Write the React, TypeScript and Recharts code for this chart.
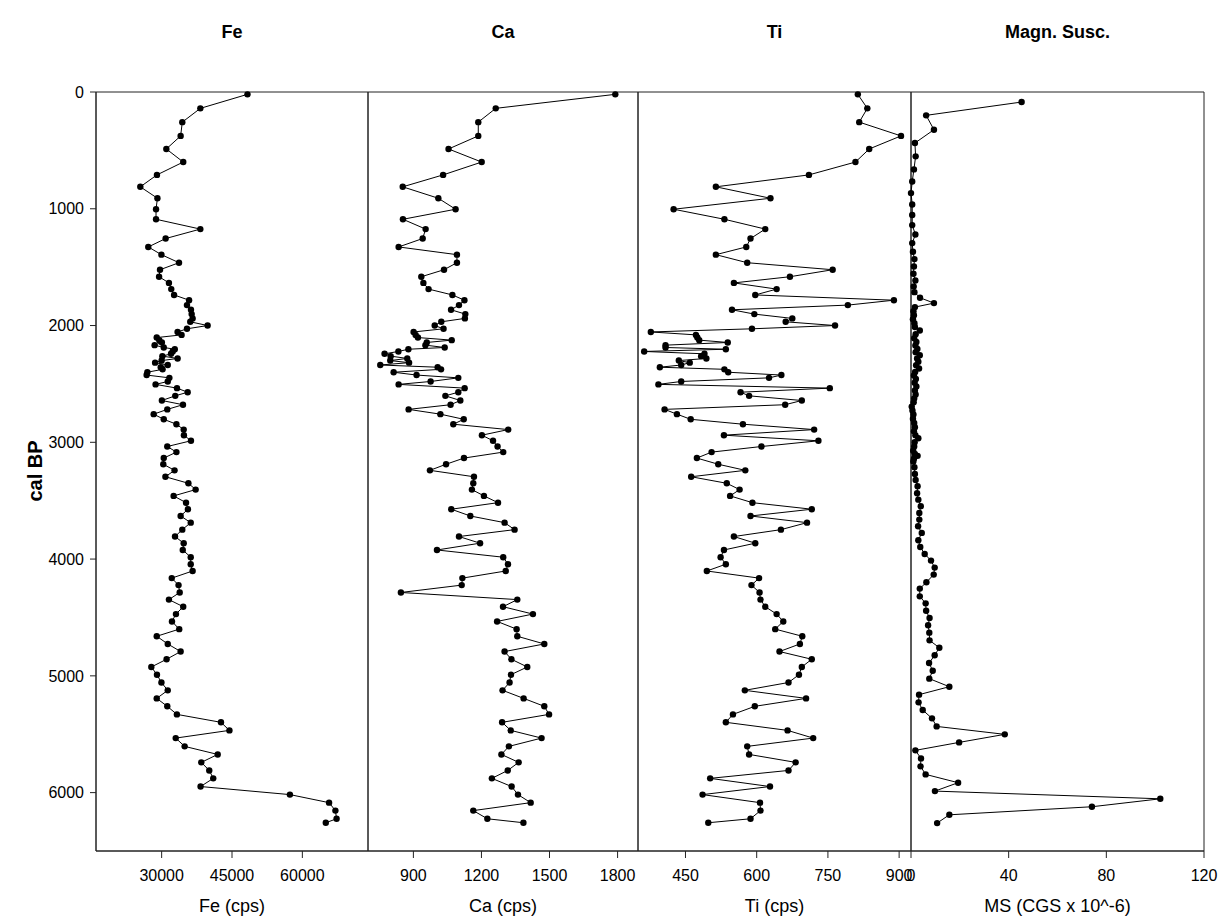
import React from 'react';
import { ScatterChart, Scatter, XAxis, YAxis, ReferenceArea } from 'recharts';

// XRF scan depths (cal BP), shared by Fe, Ca and Ti
const xrfDepth = [
  20, 140, 258, 376, 488, 600, 710, 812, 910, 1004, 1090, 1174, 1255, 1327, 1393, 1462, 1522, 1582, 1635, 1688,
  1738, 1783, 1825, 1865, 1902, 1939, 1968, 2000,
  2028, 2055, 2080, 2103, 2125, 2145, 2168, 2188, 2203, 2222, 2242, 2262, 2282, 2300, 2318, 2338, 2357, 2375,
  2400, 2424, 2448, 2479, 2504,
  2536, 2571, 2602, 2642, 2678, 2718, 2759, 2803, 2845, 2891, 2939, 2987, 3036, 3084, 3135, 3188, 3240,
  3295, 3351, 3405, 3459, 3517, 3573, 3631, 3688, 3748, 3807, 3864, 3922, 3984, 4044, 4102, 4163, 4223, 4286,
  4347, 4408, 4471, 4534, 4600, 4661, 4727, 4792, 4858, 4924, 4990, 5057, 5124, 5193, 5261, 5330, 5398, 5467,
  5533, 5604, 5673, 5741, 5810, 5878, 5948, 6017, 6086, 6154, 6224, 6258,
];

const feCps = [
  48300, 38250, 34400, 34050, 31000, 34600, 29000, 25450, 29100, 28800, 28800, 38250, 30850, 27150, 29950, 33700,
  29650, 29450, 31550, 32050, 32650, 35850, 35400, 36250, 36400, 36600, 36100, 39800,
  35400, 33400, 34250, 28950, 29500, 30050, 28500, 30450, 32800, 32350, 32000, 30150, 33400, 30000, 28600, 31300,
  29800, 30200, 26950, 26800, 31650, 31300, 28700,
  33270, 35550, 32900, 30050, 34550, 31200, 28300, 30450, 33150, 34700, 34750, 36250, 31200, 33150, 30450, 30350,
  32750,
  30800, 35700, 37250, 32550, 35200, 35600, 34050, 36200, 34400, 32850, 34700, 34500, 36200, 36200, 36600, 32150,
  33600, 33850, 31550, 34600, 33050, 32200, 33750, 28950, 31300, 34050, 31050, 27800, 29000, 29950, 31300, 28950,
  31200, 33250, 42650, 44450, 33000, 34900, 41950, 38450, 40150, 41000, 38300, 57350, 65700, 67050, 67300, 65000,
];

const caCps = [
  1790, 1263, 1186, 1186, 1055, 1201, 1031, 853, 1010, 1086, 854, 954, 941, 835, 1092, 1092, 1035, 935, 944, 967,
  1072, 1125, 1101, 1066, 1129, 1127, 1023, 994,
  1033, 901, 910, 920, 1069, 959, 953, 1038, 878, 834, 773, 800, 873, 798, 881, 754, 1007, 1022, 813, 914, 1098,
  976, 835,
  1126, 1098, 1041, 1107, 1064, 879, 1019, 1122, 1076, 1318, 1202, 1251, 1271, 1296, 1123, 1044, 973,
  1167, 1164, 1158, 1211, 1273, 1067, 1151, 1302, 1346, 1101, 1194, 1004, 1296, 1317, 1307, 1116, 1113, 845,
  1358, 1295, 1427, 1269, 1355, 1358, 1477, 1302, 1332, 1402, 1330, 1324, 1293, 1386, 1477, 1498, 1291, 1329,
  1465, 1321, 1288, 1364, 1316, 1246, 1333, 1361, 1417, 1164, 1226, 1385,
];

const tiCps = [
  813, 833, 816, 904, 837, 808, 710, 514, 629, 425, 532, 618, 587, 578, 514, 580, 760, 670, 552, 642, 597, 889,
  792, 548, 595, 675, 661, 765,
  590, 377, 472, 475, 479, 539, 408, 408, 535, 363, 490, 483, 494, 436, 459, 441, 396, 532, 540, 652, 626, 441,
  393,
  754, 566, 584, 695, 660, 406, 432, 461, 571, 721, 531, 730, 610, 505, 474, 519, 576,
  462, 537, 564, 544, 591, 716, 587, 706, 651, 552, 597, 531, 524, 535, 495, 605, 589, 606, 608, 618, 642, 656,
  639, 696, 691, 648, 716, 695, 689, 667, 575, 704, 596, 550, 535, 665, 719, 580, 584, 682, 667, 502, 628, 486,
  607, 608, 587, 498,
];

// magnetic susceptibility has its own sampling
const msDepth = [
  86, 200, 323, 437, 551, 663, 766, 866, 963, 1054, 1140, 1220, 1294, 1368, 1431, 1494, 1557, 1614, 1665, 1714,
  1762, 1808, 1842,
  1878, 1912, 1946, 1980, 2012, 2042, 2075, 2108, 2140, 2170, 2200, 2228, 2254, 2282, 2310, 2340, 2368, 2398,
  2428, 2458, 2490, 2522, 2556, 2590, 2624, 2658, 2694, 2728, 2762, 2798, 2834, 2870, 2906, 2940, 2965, 3000,
  3036, 3072, 3100, 3116, 3140,
  3165, 3214, 3271, 3322, 3376, 3436, 3491, 3548, 3605, 3662, 3719, 3776, 3839, 3896, 3956, 4013, 4073, 4133,
  4199, 4253, 4319, 4379, 4442, 4505, 4567, 4630, 4696, 4759, 4824, 4890, 4956, 5024, 5093, 5161, 5227, 5293,
  5364, 5433, 5501, 5570, 5638, 5707, 5775, 5844, 5915, 5987, 6053, 6121, 6190, 6261,
];

const msCgs = [
  45.3, 6.2, 9.4, 1.6, 1.9, 1.2, 0.5, 0.0, 0.5, 0.5, 0.5, 1.8, 0.5, 0.8, 1.4, 1.2, 1.0, 1.8, 1.1, 1.4, 3.7, 9.4,
  1.6,
  1.0, 1.2, 0.8, 1.4, 1.6, 3.6, 1.9, 1.3, 2.2, 1.8, 2.6, 1.9, 3.6, 2.5, 3.0, 2.1, 3.3, 1.7, 1.2, 2.0, 1.5, 2.2,
  1.6, 1.9, 1.3, 1.1, 0.3, 0.6, 1.0, 0.8, 1.3, 1.6, 1.2, 1.8, 3.0, 1.5, 1.3, 0.9, 1.6, 2.7, 1.2,
  0.96, 1.4, 1.6, 1.9, 2.7, 2.5, 3.0, 4.0, 3.4, 3.4, 2.9, 4.4, 3.0, 3.8, 5.6, 8.2, 9.7, 9.3, 6.3, 3.6, 3.6, 6.0,
  6.2, 7.6, 7.0, 7.5, 7.6, 11.6, 9.7, 7.4, 8.9, 7.5, 15.7, 3.3, 3.1, 4.8, 8.6, 10.5, 38.4, 19.7, 1.8, 4.1, 3.9,
  6.0, 19.3, 9.8, 102.1, 74.1, 15.7, 10.7,
];

const depthTicks = [0, 1000, 2000, 3000, 4000, 5000, 6000];
const feTicks = [30000, 45000, 60000];
const caTicks = [900, 1200, 1500, 1800];
const tiTicks = [450, 600, 750, 900];
const msTicks = [0, 40, 80, 120];

const DEPTH_DOMAIN: [number, number] = [0, 6500];
const PLOT_TOP = 92;
const PLOT_H = 759;
const AXIS_H = 69;
const PAD = 10;
const FONT = "'Liberation Sans', Arial, Helvetica, sans-serif";

const toRows = (depth: number[], values: number[]) =>
  depth.map((d, i) => ({ depth: d, v: values[i] }));

const panels = [
  { key: 'fe', title: 'Fe', label: 'Fe (cps)', plotLeft: 96, plotW: 272, domain: [16000, 74000], ticks: feTicks, rows: toRows(xrfDepth, feCps) },
  { key: 'ca', title: 'Ca', label: 'Ca (cps)', plotLeft: 368, plotW: 270, domain: [700, 1890], ticks: caTicks, rows: toRows(xrfDepth, caCps) },
  { key: 'ti', title: 'Ti', label: 'Ti (cps)', plotLeft: 638, plotW: 273, domain: [350, 925], ticks: tiTicks, rows: toRows(xrfDepth, tiCps) },
  { key: 'ms', title: 'Magn. Susc.', label: 'MS (CGS x 10^-6)', plotLeft: 911, plotW: 293, domain: [0, 120], ticks: msTicks, rows: toRows(msDepth, msCgs) },
];

const Dot = (props: any) => <circle cx={props.cx} cy={props.cy} r={3.2} fill="#000" />;

const App: React.FC = () => {
  return (
    <div style={{ position: 'absolute', left: 0, top: 0, width: 1218, height: 920, background: '#fff', fontFamily: FONT }}>
      {panels.map((p, idx) => {
        const first = idx === 0;
        const left = first ? 0 : p.plotLeft - PAD;
        const yAxisW = first ? p.plotLeft : 0;
        const rightPad = idx === panels.length - 1 ? 14 : PAD;
        const width = (first ? p.plotLeft : PAD) + p.plotW + rightPad;
        return (
          <div key={p.key} style={{ position: 'absolute', left, top: PLOT_TOP - PAD }}>
            <ScatterChart
              width={width}
              height={PAD + PLOT_H + AXIS_H}
              margin={{ top: PAD, right: rightPad, bottom: 0, left: first ? 0 : PAD }}
            >
              <XAxis
                type="number"
                dataKey="v"
                domain={p.domain}
                ticks={p.ticks}
                interval={0}
                height={AXIS_H}
                tickSize={7}
                tickMargin={12}
                stroke="#222"
                tick={{ fontSize: 16, fill: '#000' }}
                label={{ value: p.label, position: 'insideBottom', offset: 8, fontSize: 18, fill: '#000' }}
              />
              {first ? (
                <YAxis
                  type="number"
                  dataKey="depth"
                  domain={DEPTH_DOMAIN}
                  reversed
                  ticks={depthTicks}
                  interval={0}
                  width={yAxisW}
                  tickSize={6}
                  tickMargin={6}
                  stroke="#222"
                  tick={{ fontSize: 16, fill: '#000' }}
                />
              ) : (
                <YAxis type="number" dataKey="depth" domain={DEPTH_DOMAIN} reversed hide />
              )}
              <ReferenceArea
                x1={p.domain[0]}
                x2={p.domain[1]}
                y1={DEPTH_DOMAIN[0]}
                y2={DEPTH_DOMAIN[1]}
                fill="none"
                stroke="#222"
                strokeWidth={1}
              />
              <Scatter
                data={p.rows}
                dataKey="v"
                shape={Dot}
                line={{ stroke: '#000', strokeWidth: 1 }}
                isAnimationActive={false}
              />
            </ScatterChart>
          </div>
        );
      })}
      {panels.map((p) => (
        <div
          key={p.key + '-title'}
          style={{
            position: 'absolute',
            left: p.plotLeft,
            width: p.plotW,
            top: 22,
            lineHeight: '20px',
            textAlign: 'center',
            fontWeight: 'bold',
            fontSize: 18,
          }}
        >
          {p.title}
        </div>
      ))}
      <div
        style={{
          position: 'absolute',
          left: 35,
          top: 471,
          transform: 'translate(-50%, -50%) rotate(-90deg)',
          fontWeight: 'bold',
          fontSize: 20,
          whiteSpace: 'nowrap',
        }}
      >
        cal BP
      </div>
    </div>
  );
};

export default App;
